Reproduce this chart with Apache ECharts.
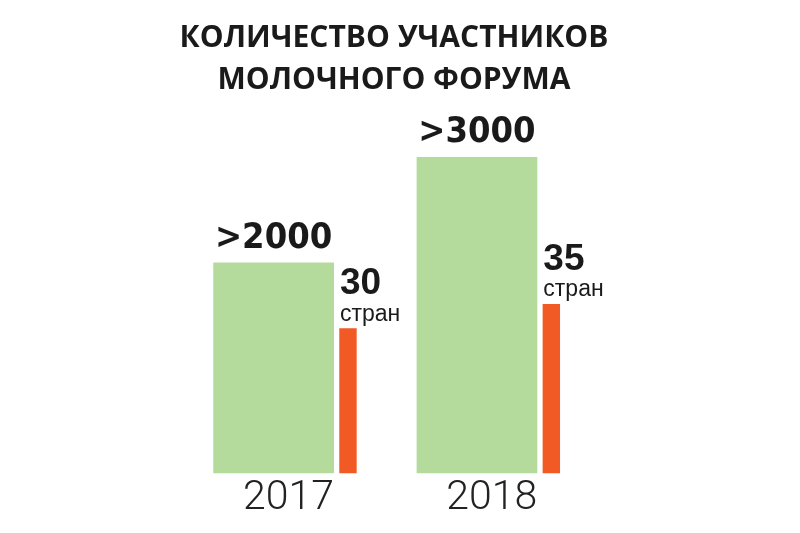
<!DOCTYPE html>
<html>
<head>
<meta charset="utf-8">
<script src="https://cdn.jsdelivr.net/npm/echarts@6/dist/echarts.min.js"></script>
<style>
html,body{margin:0;padding:0;background:#fff;}
#chart{width:800px;height:533px;}
</style>
</head>
<body>
<div id="chart"></div>
<script>
const titleLines = ['КОЛИЧЕСТВО УЧАСТНИКОВ', 'МОЛОЧНОГО ФОРУМА'];
const years = ['2017', '2018'];
const participants = [2000, 3000];
const countries = [30, 35];
const countriesUnit = 'стран';

const chart = echarts.init(document.getElementById('chart'), null, {renderer: 'canvas'});
const option = {
  backgroundColor: '#ffffff',
  animation: false,
  title: {
    text: titleLines.join('\n'),
    left: 389,
    top: 12,
    textAlign: 'center',
    textStyle: {
      fontFamily: '"Open Sans", sans-serif',
      fontWeight: 'bold',
      fontSize: 30,
      lineHeight: 42,
      color: '#1a1a1a'
    }
  },
  grid: {left: 183.3, right: 210, top: 104.4, bottom: 59.7},
  xAxis: {
    type: 'category',
    data: years,
    axisLine: {show: false},
    axisTick: {show: false},
    axisLabel: {
      margin: 5,
      padding: [0, 0, 0, 7],
      fontFamily: 'Roboto, "Open Sans", sans-serif',
      fontWeight: 300,
      fontSize: 41,
      color: '#222222'
    }
  },
  yAxis: [
    {type: 'value', min: 0, max: 3500, show: false, splitLine: {show: false}},
    {type: 'value', min: 0, max: 76.3, show: false, splitLine: {show: false}}
  ],
  series: [
    {
      type: 'bar',
      name: 'участники',
      yAxisIndex: 0,
      data: participants,
      barWidth: 120.7,
      barGap: '4.4%',
      itemStyle: {color: '#b4da9c'},
      label: {
        show: true,
        position: 'top',
        distance: 6,
        formatter: function (p) { return '>' + p.value; },
        fontFamily: '"DejaVu Sans Condensed", "DejaVu Sans", sans-serif',
        fontWeight: 'bold',
        fontSize: 36,
        color: '#1a1a1a'
      }
    },
    {
      type: 'bar',
      name: 'страны',
      yAxisIndex: 1,
      data: countries,
      barWidth: 17.4,
      barGap: '4.4%',
      itemStyle: {color: '#f15a24'},
      label: {
        show: true,
        position: 'top',
        distance: 2,
        align: 'left',
        offset: [-8, 0],
        formatter: function (p) { return '{a|' + p.value + '}\n{b|' + countriesUnit + '}'; },
        rich: {
          a: {
            fontFamily: '"Liberation Sans", "DejaVu Sans Condensed", sans-serif',
            fontWeight: 'bold',
            fontSize: 37,
            lineHeight: 36,
            color: '#1a1a1a'
          },
          b: {
            fontFamily: '"Liberation Sans", "DejaVu Sans Condensed", sans-serif',
            fontWeight: 'normal',
            fontSize: 23,
            lineHeight: 24,
            color: '#1a1a1a'
          }
        }
      }
    }
  ]
};
chart.setOption(option);
</script>
</body>
</html>
